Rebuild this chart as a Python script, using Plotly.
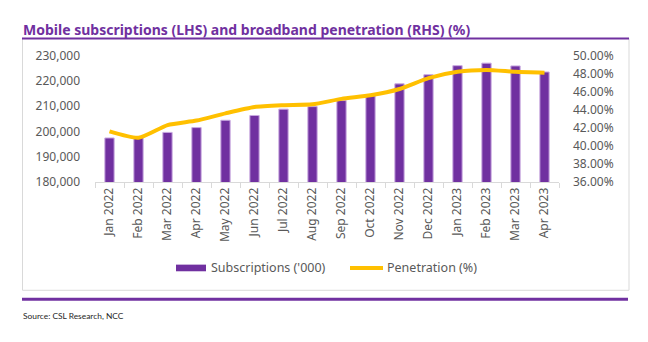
import plotly.graph_objects as go

months = ["Jan 2022", "Feb 2022", "Mar 2022", "Apr 2022", "May 2022", "Jun 2022",
          "Jul 2022", "Aug 2022", "Sep 2022", "Oct 2022", "Nov 2022", "Dec 2022",
          "Jan 2023", "Feb 2023", "Mar 2023", "Apr 2023"]
subscriptions = [197400, 197700, 199600, 201500, 204400, 206300, 208800, 209800,
                 212200, 214100, 218800, 222400, 226000, 227000, 225900, 223500]
penetration = [41.6, 40.9, 42.3, 42.8, 43.6, 44.3, 44.5, 44.6,
               45.2, 45.6, 46.3, 47.5, 48.2, 48.4, 48.2, 48.1]
left_ticks = [180000, 190000, 200000, 210000, 220000, 230000]
right_ticks = [36, 38, 40, 42, 44, 46, 48, 50]

W, H = 648, 342
PURPLE = "#7030A0"
GOLD = "#FFC000"
GREY = "#595959"
FONT = "Noto Sans"

def px(x):
    return x / W

def py(y):
    return 1 - y / H

fig = go.Figure()
fig.add_trace(go.Bar(x=months, y=subscriptions, name="Subscriptions ('000)",
                     marker=dict(color=PURPLE, line=dict(color="#C8A8E0", width=1)),
                     width=0.32, yaxis="y"))
fig.add_trace(go.Scatter(x=months, y=penetration, name="Penetration (%)", mode="lines",
                         line=dict(color=GOLD, width=4, shape="spline", smoothing=0.6),
                         yaxis="y2"))

fig.update_layout(
    width=W, height=H,
    margin=dict(l=0, r=0, t=0, b=0),
    paper_bgcolor="white", plot_bgcolor="white",
    showlegend=False,
    font=dict(family=FONT, size=12, color=GREY),
    xaxis=dict(domain=[px(95), px(559)], showline=True, linecolor="#D9D9D9", linewidth=1,
               ticks="outside", tickson="boundaries", ticklen=5, tickcolor="#D9D9D9",
               tickangle=-90, tickfont=dict(size=12, color=GREY), showgrid=False),
    yaxis=dict(domain=[py(182), py(49)], range=[180000, 230000], tickvals=left_ticks,
               tickformat=",d", showgrid=False, zeroline=False, showline=False,
               ticks="", ticklabelstandoff=14, tickfont=dict(size=12, color=GREY)),
    yaxis2=dict(overlaying="y", side="right", range=[36, 50], tickvals=right_ticks,
                ticktext=[f"{v:.2f}%" for v in right_ticks], showgrid=False, zeroline=False,
                showline=False, ticks="", ticklabelstandoff=13, anchor="x",
                tickfont=dict(size=12, color=GREY)),
    bargap=0.68,
)

shapes = [
    dict(type="rect", xref="paper", yref="paper", x0=px(22.5), x1=px(629), y0=py(296), y1=py(31),
         line=dict(color="#D9D9D9", width=1), layer="below"),
    dict(type="line", xref="paper", yref="paper", x0=px(22), x1=px(629), y0=py(31), y1=py(31),
         line=dict(color=PURPLE, width=2)),
    dict(type="line", xref="paper", yref="paper", x0=px(22), x1=px(628), y0=py(305.5), y1=py(305.5),
         line=dict(color=PURPLE, width=3)),
    # legend swatches
    dict(type="rect", xref="paper", yref="paper", x0=px(176), x1=px(206), y0=py(276), y1=py(269),
         fillcolor=PURPLE, line=dict(width=0)),
    dict(type="line", xref="paper", yref="paper", x0=px(350), x1=px(383), y0=py(272.5), y1=py(272.5),
         line=dict(color=GOLD, width=4)),
]
fig.update_layout(shapes=shapes)

annotations = [
    dict(text="<b>Mobile subscriptions (LHS) and broadband penetration (RHS) (%)</b>",
         xref="paper", yref="paper", x=px(21), y=py(22), xanchor="left", yanchor="middle",
         showarrow=False, font=dict(family=FONT, size=14, color=PURPLE)),
    dict(text="Subscriptions ('000)", xref="paper", yref="paper", x=px(209), y=py(272.5),
         xanchor="left", yanchor="middle", showarrow=False, font=dict(size=12.5, color=GREY)),
    dict(text="Penetration (%)", xref="paper", yref="paper", x=px(385), y=py(272.5),
         xanchor="left", yanchor="middle", showarrow=False, font=dict(size=12.5, color=GREY)),
    dict(text="Source: CSL Research, NCC", xref="paper", yref="paper", x=px(21), y=py(323),
         xanchor="left", yanchor="middle", showarrow=False,
         font=dict(family="Lato", size=8.4, color="#262626")),
]
fig.update_layout(annotations=annotations)

fig.write_html("out.html")
